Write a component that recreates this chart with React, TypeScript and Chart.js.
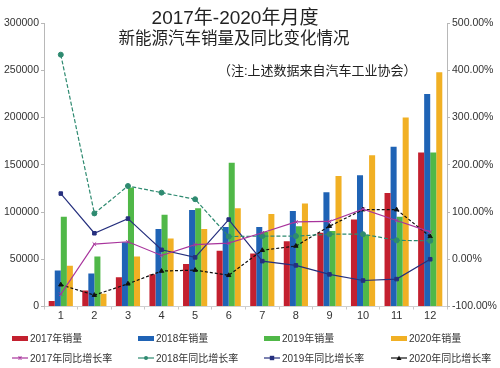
import React, { useEffect, useRef } from "react";
import { Chart, registerables } from "chart.js";

Chart.register(...registerables);

const months = ["1", "2", "3", "4", "5", "6", "7", "8", "9", "10", "11", "12"];

const sales2017 = [5700, 17000, 31000, 34000, 45000, 59000, 56000, 69000, 78000, 92000, 120000, 163000];
const sales2018 = [38000, 35000, 68000, 82000, 102000, 84000, 84000, 101000, 121000, 139000, 169000, 225000];
const sales2019 = [95000, 53000, 126000, 97000, 104000, 152000, 79000, 85000, 80000, 76000, 95000, 163000];
const sales2020 = [43000, 13500, 53000, 72000, 82000, 104000, 98000, 109000, 138000, 160000, 200000, 248000];

const growth2017 = [-74, 32, 37, 8, 31, 34, 56, 79, 80, 106, 82, 58];
const growth2018 = [433, 97, 155, 141, 127, 48, 49, 49, 53, 53, 40, 39];
const growth2019 = [139, 55, 86, 20, 4, 84, -4, -13, -32, -45, -42, 0];
const growth2020 = [-54, -76, -52, -25, -23, -34, 19, 28, 70, 105, 105, 48];

const barLabels = ["2017年销量", "2018年销量", "2019年销量", "2020年销量"];
const lineLabels = ["2017年同比增长率", "2018年同比增长率", "2019年同比增长率", "2020年同比增长率"];

const barColors = ["#c3202f", "#1f63b5", "#50b848", "#f1b024"];
const lineColors = ["#a8349c", "#2e8a70", "#26307e", "#111111"];
const lineMarkers = ["crossRot", "circle", "rect", "triangle"];
const lineDashes = [[], [4, 2], [], [3, 2]];

const FONT = "'Liberation Sans', 'Noto Sans CJK SC', sans-serif";

export default function App() {
  const ref = useRef<HTMLCanvasElement | null>(null);

  useEffect(() => {
    if (!ref.current) return;
    const barData = [sales2017, sales2018, sales2019, sales2020];
    const lineData = [growth2017, growth2018, growth2019, growth2020];
    const datasets: any[] = [];
    barData.forEach((d, i) => {
      datasets.push({
        type: "bar",
        label: barLabels[i],
        data: d,
        backgroundColor: barColors[i],
        yAxisID: "y",
        categoryPercentage: 0.72,
        barPercentage: 1,
        order: 2,
      });
    });
    lineData.forEach((d, i) => {
      datasets.push({
        type: "line",
        label: lineLabels[i],
        data: d,
        borderColor: lineColors[i],
        backgroundColor: lineColors[i],
        borderWidth: 1.2,
        borderDash: lineDashes[i],
        pointStyle: lineMarkers[i],
        pointRadius: 2.5,
        pointBorderWidth: 1,
        yAxisID: "y1",
        order: 1,
        tension: 0,
      });
    });

    Chart.defaults.font.family = FONT;
    const chart = new Chart(ref.current, {
      type: "bar",
      data: { labels: months, datasets },
      options: {
        animation: false,
        responsive: false,
        layout: { padding: { top: 23, bottom: 41.5, left: 0, right: 0 } },
        plugins: { legend: { display: false }, tooltip: { enabled: false } },
        scales: {
          x: {
            grid: { display: true, drawOnChartArea: false, tickLength: 3, color: "#c8c8c8", offset: true },
            border: { color: "#d0d0d0" },
            ticks: { color: "#333", font: { size: 11, family: FONT }, padding: 0 },
            afterFit: (s: any) => { s.height = 20; },
          },
          y: {
            position: "left",
            min: 0,
            max: 300000,
            ticks: {
              stepSize: 50000,
              color: "#333",
              font: { size: 10.5, family: FONT },
              padding: 2,
              callback: (v: any) => String(v),
            },
            grid: { drawOnChartArea: false, tickLength: 3, color: "#b8b8b8" },
            border: { color: "#b8b8b8" },
            afterFit: (s: any) => { s.width = 44; },
          },
          y1: {
            position: "right",
            min: -100,
            max: 500,
            ticks: {
              stepSize: 100,
              color: "#333",
              font: { size: 10.5, family: FONT },
              padding: 2,
              callback: (v: any) => Number(v).toFixed(2) + "%",
            },
            grid: { drawOnChartArea: false, tickLength: 3, color: "#b8b8b8" },
            border: { color: "#b8b8b8" },
            afterFit: (s: any) => { s.width = 53; },
          },
        },
      },
    });
    return () => chart.destroy();
  }, []);

  const txt: React.CSSProperties = { position: "absolute", fontFamily: FONT, color: "#222", whiteSpace: "nowrap" };

  const legendCols = [12, 138, 264, 391];

  const marker = (i: number) => {
    const c = lineColors[i];
    if (i === 0) return <path d="M6.5 2.5 L9.5 5.5 M9.5 2.5 L6.5 5.5" stroke={c} strokeWidth={1.2} />;
    if (i === 1) return <circle cx={8} cy={4} r={2} fill={c} />;
    if (i === 2) return <rect x={5.8} y={1.8} width={4.4} height={4.4} fill={c} />;
    return <path d="M8 1.5 L10.5 6 L5.5 6 Z" fill={c} />;
  };

  return (
    <div style={{ position: "absolute", left: 0, top: 0, width: 500, height: 368, background: "#fff" }}>
      <canvas ref={ref} width={500} height={368} style={{ position: "absolute", left: 0, top: 0 }} />
      <div style={{ ...txt, left: 0, width: 470, top: 6, height: 23, lineHeight: "23px", fontSize: 19, textAlign: "center" }}>
        2017年-2020年月度
      </div>
      <div style={{ ...txt, left: 0, width: 468, top: 28, height: 20, lineHeight: "20px", fontSize: 16.5, textAlign: "center" }}>
        新能源汽车销量及同比变化情况
      </div>
      <div style={{ ...txt, left: 218, top: 62, height: 18, lineHeight: "18px", fontSize: 13 }}>
        （注:上述数据来自汽车工业协会）
      </div>
      {barLabels.map((l, i) => (
        <div key={l} style={{ ...txt, left: legendCols[i], top: 331, height: 16, lineHeight: "16px", fontSize: 10, color: "#333" }}>
          <span style={{ display: "inline-block", width: 16, height: 5, background: barColors[i], verticalAlign: "middle", marginRight: 2, position: "relative", top: -1 }} />
          {l}
        </div>
      ))}
      {lineLabels.map((l, i) => (
        <div key={l} style={{ ...txt, left: legendCols[i], top: 351, height: 16, lineHeight: "16px", fontSize: 10, color: "#333" }}>
          <svg width={16} height={8} style={{ verticalAlign: "middle", marginRight: 2, position: "relative", top: -1 }}>
            <line x1={0} y1={4} x2={16} y2={4} stroke={lineColors[i]} strokeWidth={1.2} />
            {marker(i)}
          </svg>
          {l}
        </div>
      ))}
    </div>
  );
}
